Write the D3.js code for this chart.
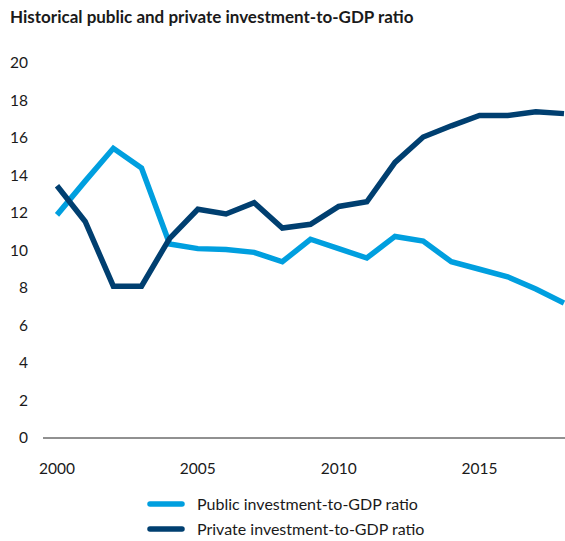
<!DOCTYPE html>
<html><head><meta charset="utf-8">
<script src="https://cdn.jsdelivr.net/npm/d3@7"></script>
<style>body{margin:0;background:#fff;}svg{display:block;font-family:Lato,"Open Sans",sans-serif;}</style>
</head><body><svg id="c" width="565" height="541"></svg>
<script>
const years = [2000,2001,2002,2003,2004,2005,2006,2007,2008,2009,2010,2011,2012,2013,2014,2015,2016,2017,2018];
const publicRatio = [11.9,13.7,15.45,14.4,10.35,10.1,10.05,9.9,9.4,10.6,10.1,9.6,10.75,10.5,9.4,9.0,8.6,7.95,7.2];
const privateRatio = [13.45,11.55,8.1,8.1,10.65,12.2,11.95,12.55,11.2,11.4,12.35,12.6,14.7,16.05,16.65,17.2,17.2,17.4,17.3];
const yTicks = [0,2,4,6,8,10,12,14,16,18,20];
const xTicks = [2000,2005,2010,2015];
const seriesNames = ["Public investment-to-GDP ratio","Private investment-to-GDP ratio"];
const colors = ["#009fdf","#003f70"];

const svg = d3.select("#c");
const x = d3.scaleLinear().domain([2000,2018]).range([57,564]);
const y = d3.scaleLinear().domain([0,20]).range([438,63]);

svg.append("text").attr("x",10).attr("y",23).attr("font-size",17).attr("font-weight","bold").attr("fill","#1a1a1a")
  .text("Historical public and private investment-to-GDP ratio");

svg.append("g").selectAll("text").data(yTicks).join("text")
  .attr("x",28).attr("y",d=>y(d)).attr("dy","0.35em").attr("text-anchor","end")
  .attr("font-size",15.5).attr("fill","#1a1a1a").text(d=>d);

svg.append("line").attr("x1",43).attr("x2",565).attr("y1",y(0)).attr("y2",y(0)).attr("stroke","#222").attr("stroke-width",1);
svg.append("g").selectAll("text").data(xTicks).join("text")
  .attr("x",d=>x(d)).attr("y",474).attr("text-anchor","middle")
  .attr("font-size",15.5).attr("fill","#1a1a1a").text(d=>d);

const line = d3.line().x((d,i)=>x(years[i])).y(d=>y(d));
[publicRatio, privateRatio].forEach((s,k)=>{
  svg.append("path").datum(s).attr("d",line).attr("fill","none")
    .attr("stroke",colors[k]).attr("stroke-width",5.5).attr("stroke-linejoin","miter").attr("stroke-linecap","butt");
});

const lg = svg.append("g");
seriesNames.forEach((n,k)=>{
  const yy = 504 + k*25;
  lg.append("line").attr("x1",150).attr("x2",182).attr("y1",yy).attr("y2",yy)
    .attr("stroke",colors[k]).attr("stroke-width",5.5).attr("stroke-linecap","round");
  lg.append("text").attr("x",197).attr("y",yy).attr("dy","0.35em").attr("font-size",16).attr("fill","#1a1a1a").text(n);
});
</script></body></html>
